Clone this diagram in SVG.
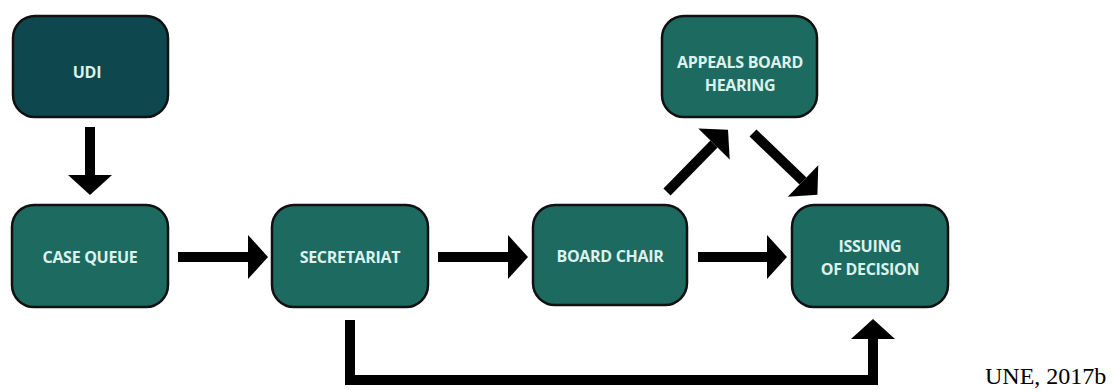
<svg xmlns="http://www.w3.org/2000/svg" width="1112" height="390" viewBox="0 0 1112 390">
<style>
.box{fill:#1d6b60;stroke:#111;stroke-width:2.5}
.dark{fill:#0e474e}
.lbl{font-family:"Open Sans","Liberation Sans",sans-serif;font-weight:bold;font-size:16px;letter-spacing:-0.3px;fill:#dcf1ec;text-anchor:middle}
.conn{fill:none;stroke:#000;stroke-width:10;stroke-linejoin:miter}
.cite{font-family:"Liberation Serif",serif;font-size:24px;fill:#000}
</style>
<defs>
<marker id="ah" markerUnits="userSpaceOnUse" markerWidth="22" markerHeight="44" refX="0" refY="22" orient="auto" overflow="visible">
<path d="M0,0 L20,22 L0,44 z" fill="#000"/>
</marker>
</defs>
<rect width="1112" height="390" fill="#fff"/>
<g id="connectors">
<line class="conn" x1="90" y1="127" x2="90" y2="175" marker-end="url(#ah)"/>
<line class="conn" x1="178" y1="257" x2="248" y2="257" marker-end="url(#ah)"/>
<line class="conn" x1="438" y1="257" x2="508" y2="257" marker-end="url(#ah)"/>
<line class="conn" x1="698" y1="257" x2="767" y2="257" marker-end="url(#ah)"/>
<line class="conn" x1="667" y1="192" x2="714" y2="144" marker-end="url(#ah)"/>
<line class="conn" x1="753" y1="133" x2="803" y2="181" marker-end="url(#ah)"/>
<path class="conn" d="M350,320 V380 H873 V339" marker-end="url(#ah)"/>
</g>
<g id="udi"><rect class="box dark" x="13" y="16" width="155" height="101" rx="22"/><text class="lbl" x="87" y="78">UDI</text></g>
<g id="case-queue"><rect class="box" x="12" y="205" width="156" height="102" rx="22"/><text class="lbl" x="90" y="263">CASE QUEUE</text></g>
<g id="secretariat"><rect class="box" x="272" y="205" width="156" height="102" rx="22"/><text class="lbl" x="350" y="263">SECRETARIAT</text></g>
<g id="board-chair"><rect class="box" x="533" y="205" width="154" height="100" rx="22"/><text class="lbl" x="610" y="262">BOARD CHAIR</text></g>
<g id="appeals"><rect class="box" x="662" y="16" width="155" height="101" rx="22"/><text class="lbl" x="740" y="68">APPEALS BOARD</text><text class="lbl" x="740" y="91">HEARING</text></g>
<g id="issuing"><rect class="box" x="792" y="205" width="156" height="102" rx="22"/><text class="lbl" x="870" y="252">ISSUING</text><text class="lbl" x="870" y="275">OF DECISION</text></g>
<text class="cite" x="985" y="384">UNE, 2017b</text>
</svg>
